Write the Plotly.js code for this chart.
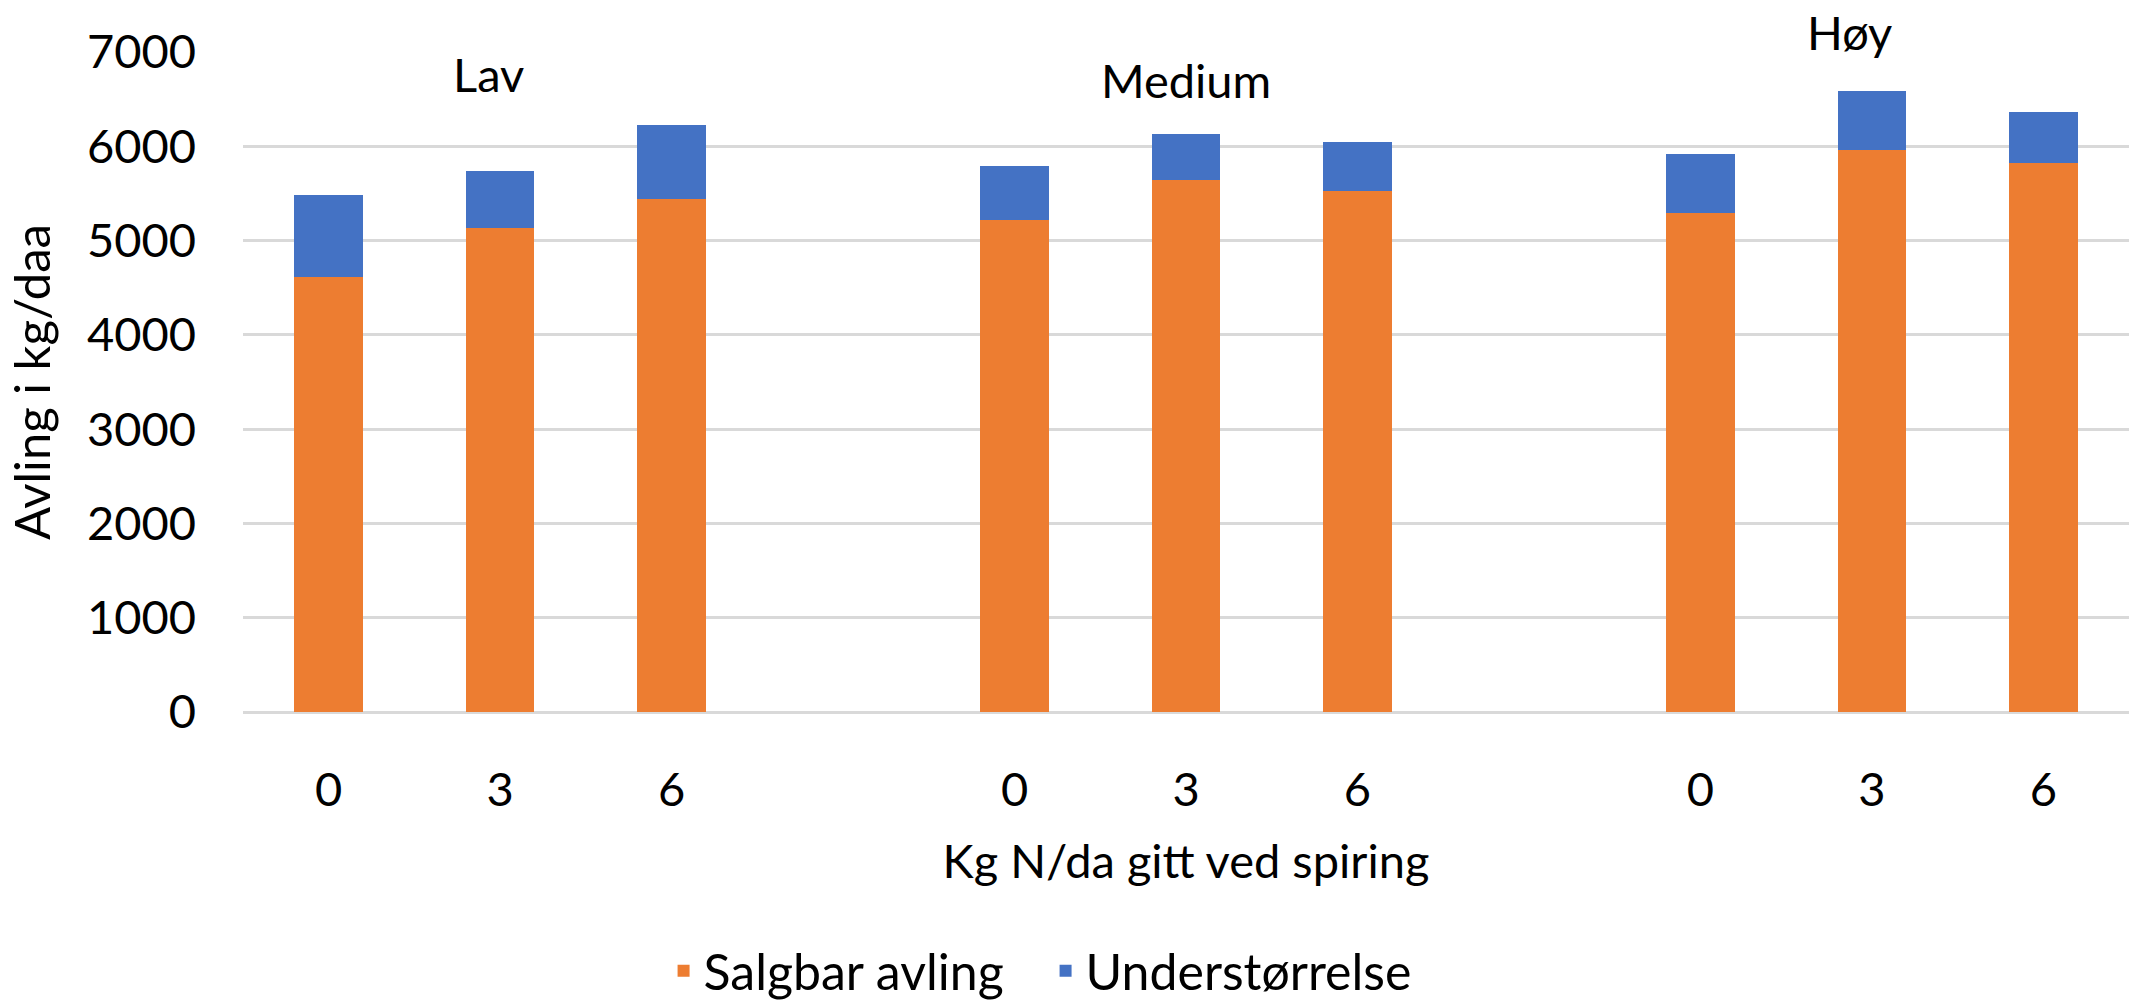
<!DOCTYPE html>
<html>
<head>
<meta charset="utf-8">
<script src="https://cdn.plot.ly/plotly-3.0.1.min.js"></script>
<style>html,body{margin:0;padding:0;background:#fff;}#chart{width:2138px;height:1006px;}</style>
</head>
<body>
<div id="chart"></div>
<script>
// ---- data ----
const groups = ["Lav", "Medium", "Høy"];
const nLevels = ["0", "3", "6"];
const salgbarAvling = [4615, 5130, 5437, 5213, 5644, 5530, 5293, 5956, 5828];
const understorrelse = [871, 606, 787, 580, 483, 518, 629, 629, 534];
const seriesNames = ["Salgbar avling", "Understørrelse"];
const yTitle = "Avling i kg/daa";
const xTitle = "Kg N/da gitt ved spiring";

// ---- build category axis with spacer slots between groups ----
const xCats = [], ySalg = [], yUnder = [], tickVals = [], tickText = [];
let k = 0;
groups.forEach((g, gi) => {
  nLevels.forEach((n) => {
    const c = g + " " + n;
    xCats.push(c); ySalg.push(salgbarAvling[k]); yUnder.push(understorrelse[k]);
    tickVals.push(c); tickText.push(n);
    k++;
  });
  if (gi < groups.length - 1) {
    xCats.push("gap" + gi); ySalg.push(null); yUnder.push(null);
  }
});

const font = "Lato, 'Open Sans', sans-serif";
const fs = 47;

const traces = [
  {type: "bar", name: seriesNames[0], x: xCats, y: ySalg, marker: {color: "#ED7D31"}, width: 0.4, hoverinfo: "y+name"},
  {type: "bar", name: seriesNames[1], x: xCats, y: yUnder, marker: {color: "#4472C4"}, width: 0.4, hoverinfo: "y+name"}
];

// group labels placed above the middle bar of each group (paper y)
const groupLabelY = [0.966, 0.957, 1.03];
const groupLabelShift = [-12, 0, -22];
const annotations = groups.map((g, gi) => ({
  x: g + " " + nLevels[1], y: groupLabelY[gi], xref: "x", yref: "paper",
  text: g, showarrow: false, xshift: groupLabelShift[gi], yanchor: "middle",
  font: {family: font, size: fs, color: "#000"}
}));

const layout = {
  width: 2138, height: 1006,
  margin: {l: 243, r: 9, t: 52, b: 294, autoexpand: false},
  paper_bgcolor: "#fff", plot_bgcolor: "#fff",
  barmode: "stack",
  font: {family: font, size: fs, color: "#000"},
  xaxis: {
    type: "category", categoryorder: "array", categoryarray: xCats,
    tickmode: "array", tickvals: tickVals, ticktext: tickText,
    showgrid: false, zeroline: false, showline: false, ticks: "",
    ticklabelstandoff: 46,
    tickfont: {family: font, size: fs, color: "#000"},
    title: {text: xTitle, font: {family: font, size: fs, color: "#000"}, standoff: 30},
    automargin: false
  },
  yaxis: {
    range: [0, 7000], dtick: 1000, tick0: 0,
    showgrid: true, gridcolor: "#D9D9D9", gridwidth: 3,
    zeroline: true, zerolinecolor: "#D9D9D9", zerolinewidth: 3,
    showline: false, ticks: "", ticklabelstandoff: 46,
    tickfont: {family: font, size: fs, color: "#000"},
    title: {text: yTitle, font: {family: font, size: 49, color: "#000"}, standoff: 20},
    automargin: false
  },
  showlegend: true,
  legend: {
    orientation: "h", x: 0.223, xanchor: "left", y: -0.392, yanchor: "middle",
    font: {family: font, size: 50, color: "#000"}, traceorder: "normal",
    entrywidth: 337, entrywidthmode: "pixels",
    itemwidth: 30, bgcolor: "rgba(0,0,0,0)"
  },
  annotations: annotations
};

Plotly.newPlot("chart", traces, layout, {displayModeBar: false, staticPlot: true});
</script>
</body>
</html>
